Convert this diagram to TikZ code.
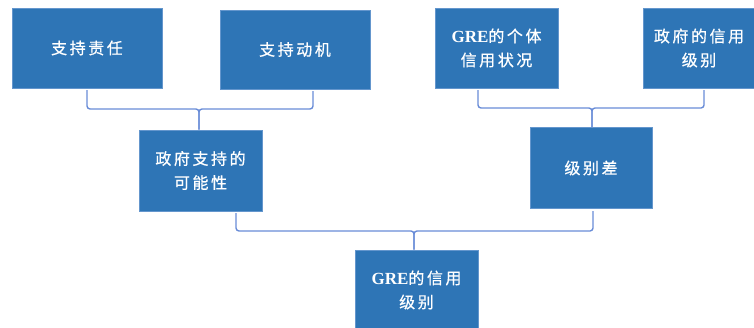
\documentclass[tikz,border=0pt]{standalone}
\usepackage{fontspec}
\newfontfamily\cjk[LetterSpace=16,FakeBold=0.6]{Noto Sans CJK SC}
\newfontfamily\gre{Liberation Serif Bold}
\definecolor{boxblue}{RGB}{46,117,182}
\definecolor{boxedge}{RGB}{100,150,205}
\definecolor{linkblue}{RGB}{105,140,215}
\tikzset{
  box/.style={fill=boxblue, draw=boxedge, line width=0.6pt, inner sep=0pt,
    text=white, align=center, font=\cjk\fontsize{16}{24}\selectfont},
  brace/.style={draw=linkblue, line width=1.4pt, rounded corners=3pt}
}
\begin{document}
\begin{tikzpicture}[x=1pt,y=-1pt]
\useasboundingbox (0,0) rectangle (754,327);
% top row
\node[box, minimum width=150pt, minimum height=80pt] (b1) at (87,48) {支持责任};
\node[box, minimum width=150pt, minimum height=79pt] (b2) at (295,49.5) {支持动机};
\node[box, minimum width=123pt, minimum height=80pt] (b3) at (496.5,48) {{\gre\fontsize{17}{24}\selectfont GRE}的个体\\信用状况};
\node[box, minimum width=112pt, minimum height=80pt] (b4) at (699,48) {政府的信用\\级别};
% middle row
\node[box, minimum width=123pt, minimum height=81pt] (b5) at (200.5,170.5) {政府支持的\\可能性};
\node[box, minimum width=122pt, minimum height=81pt] (b6) at (591,168) {级别差};
% bottom
\node[box, minimum width=123pt, minimum height=80pt] (b7) at (416.5,290) {{\gre\fontsize{17}{24}\selectfont GRE}的信用\\级别};
% braces
\coordinate (j1) at (199,109);
\coordinate (j2) at (592,108);
\coordinate (j3) at (414,231);
\draw[brace] (87,90) |- (j1) -- (j1 |- b5.north);
\draw[brace] (313,91) |- (j1) -- (j1 |- b5.north);
\draw[brace] (478,90) |- (j2) -- (j2 |- b6.north);
\draw[brace] (704,90) |- (j2) -- (j2 |- b6.north);
\draw[brace] (236,213) |- (j3) -- (j3 |- b7.north);
\draw[brace] (593,211) |- (j3) -- (j3 |- b7.north);
\end{tikzpicture}
\end{document}
